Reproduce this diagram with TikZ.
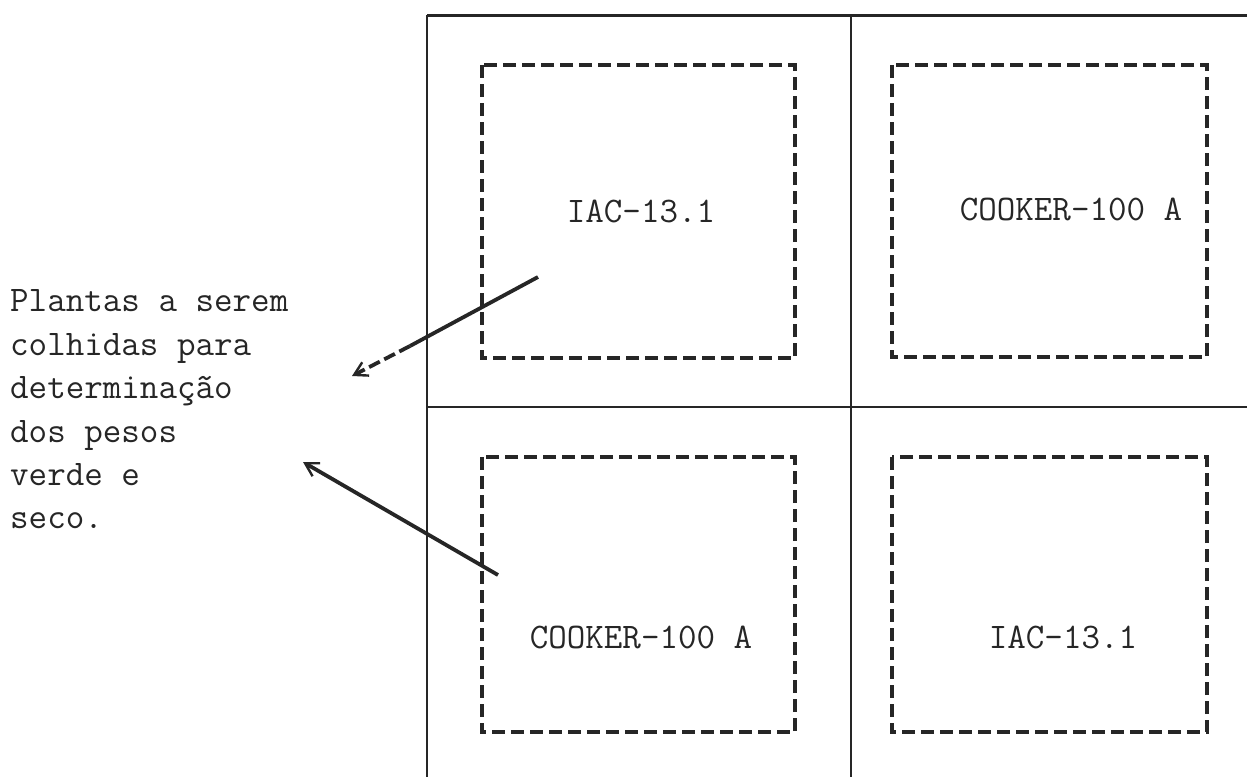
\documentclass[tikz,border=0pt]{standalone}
\usepackage{fontspec}
\usetikzlibrary{arrows.meta}
\definecolor{ink}{HTML}{262626}
\tikzset{
  gridline/.style={draw=ink, line width=2.2pt},
  plotbox/.style={draw=ink, line width=3.2pt, dash pattern=on 13pt off 6pt},
  lbl/.style={font=\fontsize{36}{36}\selectfont\ttfamily, text=ink, inner sep=0pt},
  side/.style={font=\fontsize{36}{36}\selectfont\ttfamily, text=ink, inner sep=0pt, anchor=base west},
  pointer/.style={draw=ink, line width=3.8pt},
  pointerhead/.style={draw=ink, line width=3.8pt, -{Straight Barb[length=13pt,width=15pt,line width=2.4pt]}}
}
\begin{document}
\begin{tikzpicture}[x=1pt,y=-1pt]
\useasboundingbox (0,0) rectangle (1247,777);
% grid
\coordinate (tl) at (427,15);
\coordinate (tr) at (1247,15);
\coordinate (tm) at (851,15);
\coordinate (bl) at (427,777);
\coordinate (bm) at (851,777);
\coordinate (ml) at (427,407);
\coordinate (mr) at (1247,407);
\draw[gridline, line width=3pt] (tl) -- (tr);
\draw[gridline] (tl) -- (bl);
\draw[gridline] (tm) -- (bm);
\draw[gridline, line width=2.6pt] (ml) -- (mr);
% dashed plots
\draw[plotbox] (482,65) rectangle (795,358);
\draw[plotbox] (892,65) rectangle (1207,357);
\draw[plotbox] (482,457) rectangle (795,732);
\draw[plotbox] (892,457) rectangle (1207,732);
% labels
\node[lbl] (p1) at (641,211) {IAC-13.1};
\node[lbl] (p2) at (1071,209) {COOKER-100 A};
\node[lbl] (p3) at (641,637) {COOKER-100 A};
\node[lbl] (p4) at (1063,637) {IAC-13.1};
% side text
\node[side] (s1) at (10,311) {Plantas a serem};
\node[side] (s2) at (10,355) {colhidas para};
\node[side] (s3) at (10,398) {determinação};
\node[side] (s4) at (10,442) {dos pesos};
\node[side] (s5) at (10,485) {verde e};
\node[side] (s6) at (10,528) {seco.};
% pointers
\coordinate (a1s) at (538,277);
\coordinate (a1m) at (410,346);
\coordinate (a1e) at (352,376);
\coordinate (a2s) at (498,575);
\coordinate (a2e) at (303,462);
\draw[pointer] (a1s) -- (a1m);
\draw[pointerhead, dash pattern=on 12pt off 5pt] (a1m) -- (a1e);
\draw[pointerhead] (a2s) -- (a2e);
\end{tikzpicture}
\end{document}
